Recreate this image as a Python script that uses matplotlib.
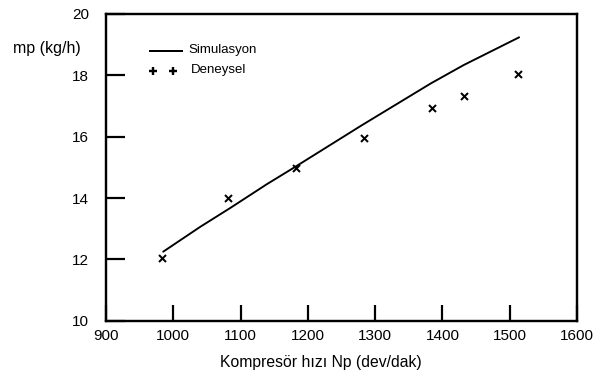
import matplotlib
matplotlib.use("Agg")
import matplotlib.pyplot as plt

plt.rcParams['font.family'] = ['Liberation Sans', 'DejaVu Sans']

# Simulated compressor mass flow (line)
sim_speed = [985, 1040, 1085, 1139, 1180, 1280, 1383, 1432, 1514]
sim_flow = [12.25, 13.06, 13.68, 14.45, 15.00, 16.37, 17.74, 18.34, 19.24]

# Experimental measurements (markers)
exp_speed = [983, 1082, 1183, 1283, 1385, 1432, 1512]
exp_flow = [12.05, 13.99, 14.99, 15.95, 16.95, 17.32, 18.05]

x_ticks = [900, 1000, 1100, 1200, 1300, 1400, 1500, 1600]
y_ticks = [10, 12, 14, 16, 18, 20]

PX = 72 / 100  # points per pixel at 100 dpi

fig = plt.figure(figsize=(5.97, 3.74), dpi=100)
ax = fig.add_axes([106 / 597, 1 - 320.7 / 374, 471 / 597, 306.7 / 374])

ax.plot(sim_speed, sim_flow, color='black', lw=1.9 * PX,
        solid_capstyle='round', solid_joinstyle='round')
ax.plot(exp_speed, exp_flow, linestyle='none', marker='x', color='black',
        markersize=7 * PX, markeredgewidth=2 * PX)

ax.set_xlim(900, 1600)
ax.set_ylim(10, 20)
ax.set_xticks(x_ticks)
ax.set_yticks(y_ticks)
ax.tick_params(axis='x', direction='in', length=16 * PX, width=2.2 * PX,
               pad=8 * PX, labelsize=11)
ax.tick_params(axis='y', direction='in', length=19 * PX, width=2.2 * PX,
               pad=17 * PX, labelsize=11)
for s in ax.spines.values():
    s.set_linewidth(2.4 * PX)
    s.set_color('black')

# Legend drawn by hand
ax.plot([0.094, 0.162], [0.880, 0.880], transform=ax.transAxes,
        color='black', lw=2 * PX)
ax.text(0.174, 0.884, 'Simulasyon', transform=ax.transAxes,
        fontsize=9.5, va='center', ha='left')
ax.plot([0.0995, 0.1433], [0.813, 0.813], transform=ax.transAxes,
        linestyle='none', marker='+', color='black', markersize=8 * PX,
        markeredgewidth=2.4 * PX)
ax.text(0.180, 0.816, 'Deneysel', transform=ax.transAxes,
        fontsize=9.5, va='center', ha='left')

fig.text(13 / 597, 1 - 48 / 374, 'mp (kg/h)', fontsize=11.5, ha='left',
         va='center')
fig.text(321 / 597, 1 - 363 / 374, 'Kompresör hızı Np (dev/dak)',
         fontsize=11.3, ha='center', va='center')

fig.savefig('out.png', dpi=100, facecolor='white')
